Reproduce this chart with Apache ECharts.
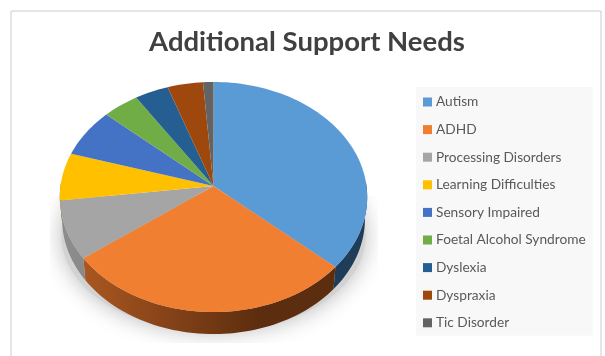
<!DOCTYPE html>
<html>
<head>
<meta charset="utf-8">
<style>html,body{margin:0;padding:0;background:#fff;overflow:hidden}#chart{width:605px;height:356px}</style>
<script src="https://cdn.jsdelivr.net/npm/echarts@6/dist/echarts.min.js"></script>
</head>
<body>
<div id="chart"></div>
<script>
// Share of pupils per support need, in percent
const categories = ['Autism', 'ADHD', 'Processing Disorders', 'Learning Difficulties', 'Sensory Impaired', 'Foetal Alcohol Syndrome', 'Dyslexia', 'Dyspraxia', 'Tic Disorder'];
const shares = [36.6, 28.2, 8.2, 6.7, 6.9, 4.2, 3.9, 4.1, 1.2];
const faceColors = ['#5B9BD5', '#F07F32', '#A5A5A5', '#FFC000', '#4472C4', '#70AD47', '#255E91', '#9E480E', '#636363'];
const wallStops = [
  ['#1f4260', '#1f3d59'], ['#b05a22', '#5c2d0e'], ['#8c8c8c', '#6a6a6a'],
  ['#997300', '#997300'], ['#294476', '#294476'], ['#436828', '#436828'],
  ['#163857', '#163857'], ['#5f2b08', '#5f2b08'], ['#3b3b3b', '#3b3b3b']
];

// Tilted-disc projection: apex of the pie, disc radii, perspective strength, wall height
const apexX = 213.5, apexY = 186, radiusX = 153, radiusY = 114, tilt = 0.0957, wallDepth = 22;

function project(percent) {
  const a = percent / 100 * Math.PI * 2;
  const X = Math.sin(a), Y = Math.cos(a), w = 1 + tilt * Y;
  return [apexX + radiusX * X / w, apexY - radiusY * Y / w];
}

function arcPoints(from, to) {
  const steps = Math.max(2, Math.ceil((to - from) * 2));
  const pts = [];
  for (let i = 0; i <= steps; i++) pts.push(project(from + (to - from) * i / steps));
  return pts;
}

function renderSlice(params, api) {
  const start = api.value(0), size = api.value(1), idx = params.seriesIndex - 1;
  const rim = arcPoints(start, start + size);
  const children = [];
  // Outer wall: only the front half of the disc shows it
  const from = Math.max(start, 24.5), to = Math.min(start + size, 75.5);
  if (to > from) {
    const top = arcPoints(from, to);
    const bottom = top.map(p => [apexX + (p[0] - apexX) * 0.985, p[1] + wallDepth]).reverse();
    const grad = new echarts.graphic.LinearGradient(70, 0, 260, 0, [
      { offset: 0, color: wallStops[idx][0] },
      { offset: 1, color: wallStops[idx][1] }
    ], true);
    children.push({ type: 'polygon', z2: 1, shape: { points: top.concat(bottom) }, style: { fill: grad } });
  }
  children.push({
    type: 'polygon', z2: 2,
    shape: { points: [[apexX, apexY]].concat(rim) },
    style: { fill: api.visual('color') }
  });
  return { type: 'group', children };
}

function renderShadow() {
  return {
    type: 'group',
    children: [{
      type: 'ellipse',
      shape: { cx: apexX, cy: 236, rx: 152, ry: 96 },
      style: { fill: '#d2d2d2', shadowBlur: 22, shadowColor: 'rgba(0,0,0,0.28)' },
      clipPath: { type: 'rect', shape: { x: 50, y: 196, width: 328, height: 147 } }
    }]
  };
}

let running = 0;
const sliceSeries = categories.map((name, i) => {
  const item = [running, shares[i]];
  running += shares[i];
  return {
    type: 'custom',
    name,
    coordinateSystem: 'none',
    renderItem: renderSlice,
    itemStyle: { color: faceColors[i] },
    data: [item],
    silent: true
  };
});

const chart = echarts.init(document.getElementById('chart'), null, { renderer: 'canvas' });
chart.setOption({
  animation: false,
  backgroundColor: '#ffffff',
  title: {
    text: 'Additional Support Needs',
    left: 302, top: 23, textAlign: 'center',
    textStyle: { fontFamily: 'Lato', fontSize: 27.5, fontWeight: 'bold', color: '#404040' }
  },
  legend: {
    data: categories,
    orient: 'vertical',
    left: 416, top: 87,
    padding: [7, 7, 5, 7],
    backgroundColor: '#f8f8f8',
    icon: 'rect',
    itemWidth: 9, itemHeight: 9,
    itemGap: 11.6,
    selectedMode: false,
    textStyle: { fontFamily: 'Lato', fontSize: 13.7, color: '#595959', lineHeight: 16, padding: [0, 0, 0, -1] }
  },
  graphic: [{
    type: 'rect', z: -1,
    shape: { x: 11, y: 11, width: 590, height: 360 },
    style: { fill: '#ffffff', stroke: '#cccccc', lineWidth: 1 }
  }],
  series: [{
    type: 'custom', name: 'base shadow', coordinateSystem: 'none',
    renderItem: renderShadow, data: [0], silent: true, z: 1
  }].concat(sliceSeries.map(s => Object.assign(s, { z: 2 })))
});
</script>
</body>
</html>
